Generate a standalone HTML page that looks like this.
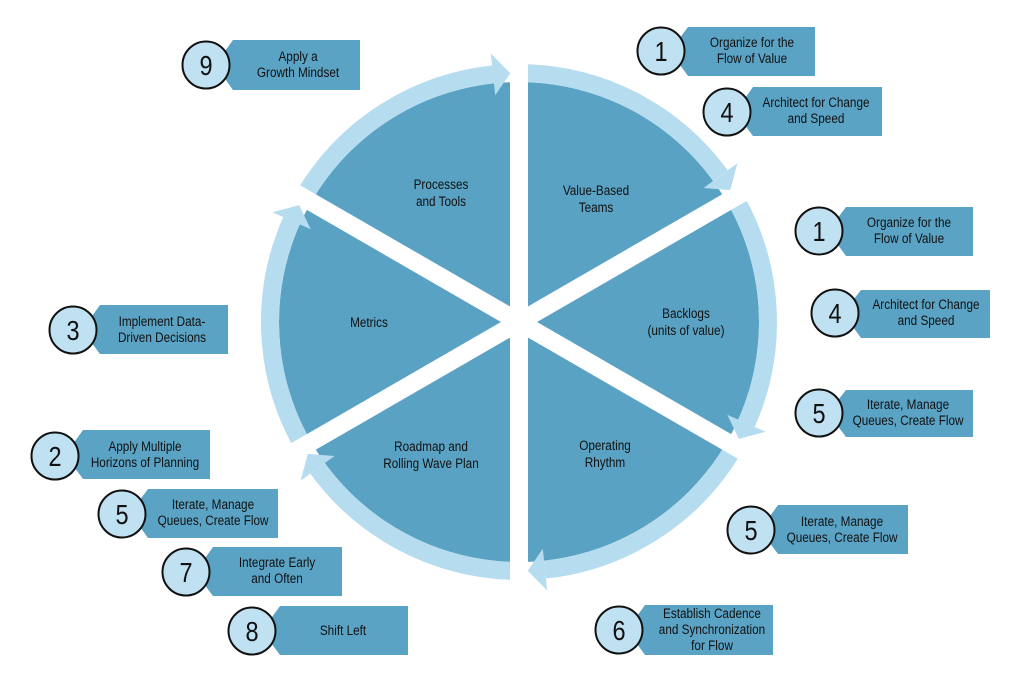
<!DOCTYPE html>
<html><head><meta charset="utf-8"><style>
html,body{margin:0;padding:0;background:#fff;}
svg{display:block;}
text{font-family:"Liberation Sans Narrow","Liberation Sans",sans-serif;fill:#111;transform-box:fill-box;transform-origin:center;transform:scaleX(0.84);}
.t{font-size:14px;text-anchor:middle;}
.n{font-size:28px;text-anchor:middle;}
</style></head><body>
<svg width="1024" height="695" viewBox="0 0 1024 695" xmlns="http://www.w3.org/2000/svg">
<circle cx="519" cy="322" r="240" fill="#5aa2c3"/>
<g fill="none" stroke="#b6dcef" stroke-width="18">
<path d="M527.7,73.2 A249,249 0 0 1 720.4,175.6"/>
<path d="M738.8,205.1 A249,249 0 0 1 746.5,423.3"/>
<path d="M730.2,453.9 A249,249 0 0 1 545.0,569.6"/>
<path d="M510.3,570.8 A249,249 0 0 1 317.6,468.4"/>
<path d="M299.2,438.9 A249,249 0 0 1 291.5,220.7"/>
<path d="M307.8,190.1 A249,249 0 0 1 493.0,74.4"/>
</g>
<g stroke="#fff" stroke-width="18">
<line x1="519" y1="50" x2="519" y2="595"/>
<line x1="761.5" y1="182" x2="276.5" y2="462"/>
<line x1="761.5" y1="462" x2="276.5" y2="182"/>
</g>
<g fill="#b6dcef">
<polygon points="730.2,190.1 703.5,188.0 737.4,163.3"/>
<polygon points="738.8,438.9 727.3,414.7 765.6,431.8"/>
<polygon points="527.7,570.8 542.8,548.7 547.2,590.5"/>
<polygon points="307.8,453.9 334.5,456.0 300.6,480.7"/>
<polygon points="299.2,205.1 310.7,229.3 272.4,212.2"/>
<polygon points="510.3,73.2 495.2,95.3 490.8,53.5"/>
</g>
<g class="t">
<text class="t" x="441" y="189">Processes</text><text class="t" x="441" y="206">and Tools</text>
<text class="t" x="596" y="195">Value-Based</text><text class="t" x="596" y="212">Teams</text>
<text class="t" x="369" y="327">Metrics</text>
<text class="t" x="686" y="318">Backlogs</text><text class="t" x="686" y="335">(units of value)</text>
<text class="t" x="431" y="451">Roadmap and</text><text class="t" x="431" y="468">Rolling Wave Plan</text>
<text class="t" x="605" y="450">Operating</text><text class="t" x="605" y="467">Rhythm</text>
</g>
<g>
<polygon points="233,40 360,40 360,90 233,90 215,65" fill="#5ba3c4"/><circle cx="206" cy="65" r="23.5" fill="#bfe1f1" stroke="#111" stroke-width="2"/>
<text class="n" x="206" y="75">9</text><text class="t" x="298" y="61">Apply a</text><text class="t" x="298" y="77">Growth Mindset</text>

<polygon points="688,27 815,27 815,76 688,76 670,51" fill="#5ba3c4"/><circle cx="661" cy="51" r="23.5" fill="#bfe1f1" stroke="#111" stroke-width="2"/>
<text class="n" x="661" y="61">1</text><text class="t" x="752" y="47">Organize for the</text><text class="t" x="752" y="63">Flow of Value</text>

<polygon points="753,87 882,87 882,136 753,136 735,112" fill="#5ba3c4"/><circle cx="727" cy="112" r="23.5" fill="#bfe1f1" stroke="#111" stroke-width="2"/>
<text class="n" x="727" y="122">4</text><text class="t" x="816" y="107">Architect for Change</text><text class="t" x="816" y="123">and Speed</text>

<polygon points="846,207 973,207 973,256 846,256 828,231" fill="#5ba3c4"/><circle cx="819" cy="231" r="23.5" fill="#bfe1f1" stroke="#111" stroke-width="2"/>
<text class="n" x="819" y="241">1</text><text class="t" x="909" y="227">Organize for the</text><text class="t" x="909" y="243">Flow of Value</text>

<polygon points="861,290 990,290 990,338 861,338 843,313" fill="#5ba3c4"/><circle cx="835" cy="313" r="23.5" fill="#bfe1f1" stroke="#111" stroke-width="2"/>
<text class="n" x="835" y="323">4</text><text class="t" x="926" y="309">Architect for Change</text><text class="t" x="926" y="325">and Speed</text>

<polygon points="846,390 973,390 973,437 846,437 828,413" fill="#5ba3c4"/><circle cx="819" cy="413" r="23.5" fill="#bfe1f1" stroke="#111" stroke-width="2"/>
<text class="n" x="819" y="423">5</text><text class="t" x="908" y="409">Iterate, Manage</text><text class="t" x="908" y="425">Queues, Create Flow</text>

<polygon points="778,505 908,505 908,554 778,554 760,530" fill="#5ba3c4"/><circle cx="751" cy="530" r="23.5" fill="#bfe1f1" stroke="#111" stroke-width="2"/>
<text class="n" x="751" y="540">5</text><text class="t" x="842" y="526">Iterate, Manage</text><text class="t" x="842" y="542">Queues, Create Flow</text>

<polygon points="645,605 773,605 773,655 645,655 627,630" fill="#5ba3c4"/><circle cx="619" cy="630" r="23.5" fill="#bfe1f1" stroke="#111" stroke-width="2"/>
<text class="n" x="619" y="640">6</text><text class="t" x="712" y="618">Establish Cadence</text><text class="t" x="712" y="634">and Synchronization</text><text class="t" x="712" y="650">for Flow</text>

<polygon points="100,305 228,305 228,354 100,354 82,330" fill="#5ba3c4"/><circle cx="73" cy="330" r="23.5" fill="#bfe1f1" stroke="#111" stroke-width="2"/>
<text class="n" x="73" y="340">3</text><text class="t" x="162" y="326">Implement Data-</text><text class="t" x="162" y="342">Driven Decisions</text>

<polygon points="83,430 210,430 210,479 83,479 65,455" fill="#5ba3c4"/><circle cx="55" cy="456" r="23.5" fill="#bfe1f1" stroke="#111" stroke-width="2"/>
<text class="n" x="55" y="466">2</text><text class="t" x="145" y="451">Apply Multiple</text><text class="t" x="145" y="467">Horizons of Planning</text>

<polygon points="148,489 278,489 278,538 148,538 130,513" fill="#5ba3c4"/><circle cx="122" cy="514" r="23.5" fill="#bfe1f1" stroke="#111" stroke-width="2"/>
<text class="n" x="122" y="524">5</text><text class="t" x="213" y="509">Iterate, Manage</text><text class="t" x="213" y="525">Queues, Create Flow</text>

<polygon points="213,547 342,547 342,596 213,596 195,572" fill="#5ba3c4"/><circle cx="186" cy="572" r="23.5" fill="#bfe1f1" stroke="#111" stroke-width="2"/>
<text class="n" x="186" y="582">7</text><text class="t" x="277" y="567">Integrate Early</text><text class="t" x="277" y="583">and Often</text>

<polygon points="280,606 408,606 408,655 280,655 262,631" fill="#5ba3c4"/><circle cx="252" cy="631" r="23.5" fill="#bfe1f1" stroke="#111" stroke-width="2"/>
<text class="n" x="252" y="641">8</text><text class="t" x="343" y="635">Shift Left</text>
</g>
</svg>
</body></html>
